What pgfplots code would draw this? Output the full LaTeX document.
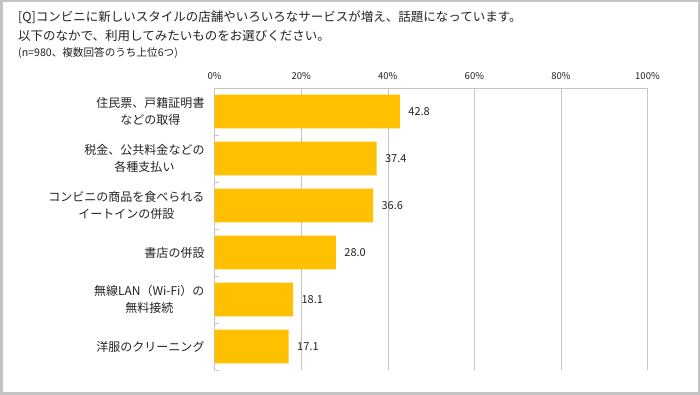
\documentclass[border=0pt]{standalone}
\usepackage{pgfplots}
\pgfplotsset{compat=1.18}
\usepackage{fontspec}
\setmainfont{Noto Sans CJK JP}
\definecolor{bargold}{HTML}{FFC000}
\definecolor{framegray}{HTML}{C4C4C4}
\definecolor{gridgray}{HTML}{C4C4C4}
\definecolor{txt}{HTML}{222222}
\begin{document}
\begin{tikzpicture}[x=1pt,y=1pt]
\path[use as bounding box] (0,0) rectangle (700,395);
\draw[framegray, line width=2.5pt] (1.25,1.25) rectangle (698.75,393.75);
\node[anchor=base west, inner sep=0pt, text=txt, font={\fontsize{12.5}{15}\selectfont}] at (18,373) {[Q]コンビニに新しいスタイルの店舗やいろいろなサービスが増え、話題になっています。};
\node[anchor=base west, inner sep=0pt, text=txt, font={\fontsize{12.5}{15}\selectfont}] at (18,354) {以下のなかで、利用してみたいものをお選びください。};
\node[anchor=base west, inner sep=0pt, text=txt, font={\fontsize{10.6}{12}\selectfont}] at (18,338.5) {(n=980、複数回答のうち上位6つ)};
\begin{axis}[
  at={(214.7pt,25pt)}, anchor=south west,
  scale only axis, width=432.8pt, height=282pt,
  xbar, bar width=0.72, bar shift=0pt,
  xmin=0, xmax=100, ymin=-0.5, ymax=5.5, y dir=reverse,
  axis x line*=top, axis y line*=left,
  axis line style={gridgray, line width=0.8pt},
  xtick={0,20,40,60,80,100},
  xticklabels={0\%,20\%,40\%,60\%,80\%,100\%},
  xticklabel style={font={\fontsize{9.5}{11}\selectfont}, text=txt, inner sep=0pt, yshift=8pt},
  major x tick style={draw=none},
  xmajorgrids, major grid style={gridgray, line width=0.6pt},
  ytick={0,1,2,3,4,5},
  yticklabels={{住民票、戸籍証明書\\などの取得},{税金、公共料金などの\\各種支払い},{コンビニの商品を食べられる\\イートインの併設},{書店の併設},{無線LAN（Wi-Fi）の\\無料接続},{洋服のクリーニング}},
  yticklabel style={align=center, font={\fontsize{12}{17}\selectfont}, text=txt, inner sep=0pt, xshift=-10pt},
  major y tick style={draw=none},
  minor ytick={-0.5,0.5,1.5,2.5,3.5,4.5,5.5},
  minor tick length=4pt, tick align=inside,
  minor y tick style={gridgray, line width=0.8pt},
  nodes near coords,
  nodes near coords style={anchor=west, xshift=5pt, font={\fontsize{11}{13}\selectfont}, text=txt,
    /pgf/number format/.cd, fixed, fixed zerofill, precision=1, assume math mode=true},
  clip=false,
]
\addplot[fill=bargold, draw=none] coordinates {(42.8,0) (37.4,1) (36.6,2) (28.0,3) (18.1,4) (17.1,5)};
\end{axis}
\end{tikzpicture}
\end{document}
